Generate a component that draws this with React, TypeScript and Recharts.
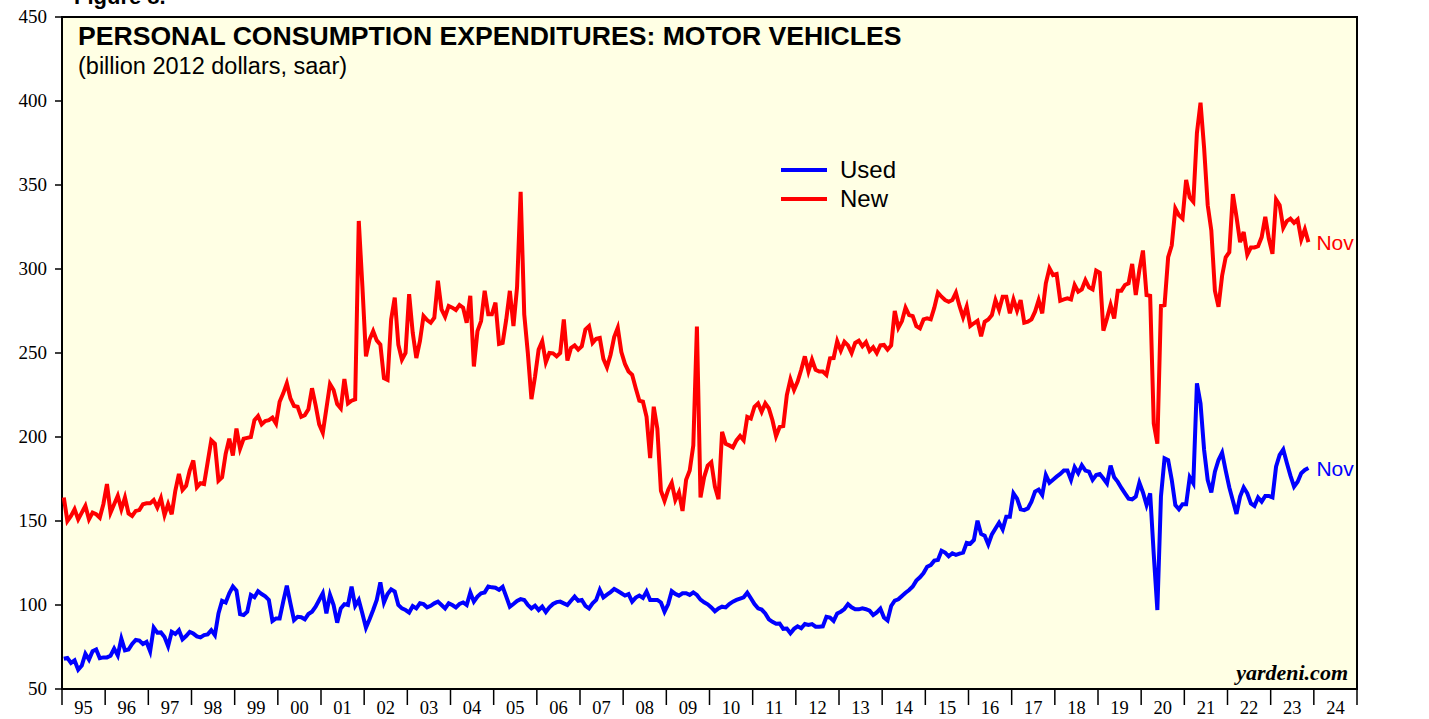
import { LineChart, Line, XAxis, YAxis, CartesianGrid, ReferenceArea, Legend } from "recharts";

// year labels along the bottom (1995 .. 2024)
const yearLabels = [
  "95", "96", "97", "98", "99", "00", "01", "02", "03", "04",
  "05", "06", "07", "08", "09", "10", "11", "12", "13", "14",
  "15", "16", "17", "18", "19", "20", "21", "22", "23", "24",
];

const yTicks = [50, 100, 150, 200, 250, 300, 350, 400, 450];

const lastMonthLabel = "Nov";

// used motor vehicles, monthly from Jan 1995 to Nov 2023 (billion 2012 $, saar)
const usedVehicles = [
  68, 68.5, 65.5, 67, 61.5, 64, 71, 67.5, 72.5, 73.5, 68.3, 68.8, // 95
  68.8, 69.8, 74, 70, 80, 73, 73.5, 76.8, 79.2, 78.8, 76.8, 78, // 96
  72.5, 86.5, 83.5, 83.7, 81, 75.5, 84, 82.7, 85, 79.6, 81.5, 84, // 97
  83, 81.3, 80.7, 82.1, 82.5, 85, 82, 95, 102.5, 101.5, 107, 111, // 98
  108.5, 94.6, 94, 96, 106, 104.6, 108.2, 106.5, 105.2, 103, 90.5, 92, // 99
  92, 102, 111.5, 101, 91, 93, 92.7, 91.5, 94.6, 96, 99, 103, // 00
  107, 95, 106, 100, 89.5, 98, 100.5, 100, 111, 99.5, 103, 95, // 01
  86.5, 91.5, 97, 103, 113.5, 101.5, 106.5, 109.3, 108, 100, 98, 97, // 02
  95.5, 99.4, 98, 101, 100.5, 98.6, 99.5, 101, 102, 100, 98, 101, // 03
  100, 98.6, 100.6, 101.5, 100, 107.5, 102, 105, 107, 107.5, 111, 110.5, // 04
  110.3, 109, 110.8, 105, 99, 100.6, 102.4, 103.5, 103, 100, 98, 99.6, // 05
  97, 99, 95.8, 98.6, 100.6, 101.7, 102, 101, 100, 102.5, 105, 102.5, // 06
  103, 99.5, 98, 101, 103, 109, 104.5, 106.2, 107.7, 109.5, 108.3, 107, // 07
  105.6, 106.5, 102, 104.4, 105.6, 104.2, 108, 103, 103, 103, 101.5, 96, // 08
  100.4, 108.2, 106.6, 105.6, 107, 107, 106, 107.5, 106, 103.2, 101.6, 100.4, // 09
  98.6, 96.3, 98, 99, 98.6, 100.6, 102, 103, 103.8, 104.6, 107.3, 104, // 10
  100.5, 98, 97.3, 95, 91.5, 90, 88.8, 89, 85.8, 86, 83.2, 85.8, // 11
  87.3, 86.2, 88.7, 88.1, 88.6, 87.1, 87.1, 87.3, 93, 92.5, 90.5, 95, // 12
  96, 97.6, 100.5, 98.6, 97.4, 97.4, 98, 97.5, 96.6, 94, 95.6, 97.8, // 13
  92.6, 90.8, 99.4, 102.6, 103.4, 105.4, 107.3, 108.9, 111, 114.5, 116.5, 119, // 14
  122.8, 123.8, 126.4, 126.8, 132.3, 131.2, 129, 130.8, 129.8, 130.6, 131.2, 137, // 15
  136.5, 138.7, 150.2, 142.3, 141.2, 136, 142, 145.5, 149, 145, 152.6, 152.6, // 16
  166.5, 163.3, 157, 156.5, 157.5, 161.5, 167.5, 168.7, 165.5, 177.4, 172.8, 174.6, // 17
  176.4, 178, 180, 180, 174.4, 182, 178.5, 183.2, 180, 179.4, 174.5, 177.4, // 18
  178, 175.3, 172.4, 183, 176, 173.3, 169.7, 166.5, 163.3, 162.9, 164.5, 172.8, // 19
  167, 159.5, 166.5, 130, 97, 164.5, 187.3, 186.3, 174.5, 159.5, 157, 160, // 20
  160, 176, 172.4, 232, 220, 192.3, 174.4, 167, 179.4, 186.3, 190.7, 180, // 21
  170, 162, 154.2, 164.5, 170, 166.5, 160.5, 159, 164, 161.5, 164.9, 164.9, // 22
  164, 182.3, 189.3, 192.5, 184.5, 177, 170.4, 173.4, 178.4, 180.4, 181.5, // 23
];

// new motor vehicles, same months
const newVehicles = [
  164, 150, 153, 157, 151, 155, 159, 151, 155, 154, 152, 160, // 95
  172, 155, 160, 165, 157, 164, 154.5, 153, 156, 156.5, 160, 160.5, // 96
  160.5, 162.5, 158, 163.5, 153.5, 160, 154, 168, 178, 168.5, 171, 180, // 97
  186, 170, 172.5, 172, 185, 198, 196, 174, 176, 190, 199, 189, // 98
  205, 193, 199, 199.5, 200, 210, 212.5, 207.5, 209.5, 210, 211.5, 208, // 99
  221, 226, 232, 223, 218.5, 218, 212, 213, 216.5, 229, 219, 207.5, // 00
  202.5, 217, 231.5, 228, 219.6, 217, 234.5, 220, 221.6, 222.4, 328.6, 290, // 01
  248, 258, 263, 257.5, 255, 235, 234, 270, 283, 255, 246, 250, // 02
  285, 262, 247, 257, 272, 269.6, 268, 271, 293, 276, 271.6, 278, // 03
  277, 275.6, 278.6, 277, 268, 284, 242, 263, 269, 287, 273, 273, // 04
  280, 255.4, 256, 270, 287, 266, 289, 346, 273, 250, 222.5, 236, // 05
  252, 257, 244.5, 250, 249.8, 248, 250, 270, 245.5, 253, 254.5, 252, // 06
  254, 264, 266, 256, 258.5, 259, 246.5, 241.5, 249, 259.5, 265, 250.5, // 07
  243.5, 239, 237, 229, 221.6, 221, 212, 187.5, 218, 205, 168, 162, // 08
  168.5, 172.8, 162.5, 167, 156, 174.5, 180, 195, 265.7, 164, 176, 183, // 09
  185, 170.5, 163, 203, 196, 195, 193.8, 198, 200.6, 198, 212, 211, // 10
  218, 220, 215, 220, 217, 210, 200.5, 206, 206.5, 225, 234.3, 228, // 11
  233, 240, 248, 239, 246, 240, 239, 239, 237, 246.8, 247, 257, // 12
  251.4, 256.7, 254.5, 250, 256, 257.3, 254, 256.5, 251.2, 253.4, 250, 254.5, // 13
  254.8, 252, 254.5, 275, 265, 269, 277, 272.6, 272, 266, 264.7, 270, // 14
  270.6, 270, 277, 285.9, 283.5, 281.5, 280.5, 281.5, 285.9, 278, 271.2, 277.6, // 15
  266.1, 267.7, 269.2, 260, 268.6, 270, 272.6, 281.5, 275.6, 283.5, 283.5, 273.6, // 16
  281.9, 275.2, 281.5, 268, 268.6, 270, 274.6, 281.5, 273.6, 291.5, 300.4, 296.4, // 17
  297, 281.1, 281.9, 282.5, 281.9, 290.5, 286.5, 287.9, 293.4, 289.1, 287.9, 299, // 18
  297.8, 263.3, 270.6, 278.6, 270.6, 287.1, 287.1, 290.5, 291.5, 303, 284.5, 299.4, // 19
  311, 284.5, 284, 208, 196, 278, 278.5, 307, 314, 336, 332, 330, // 20
  353, 342.6, 340, 381, 399, 372, 338, 323, 287, 277.5, 296, 307, // 21
  310, 344.6, 331, 316, 322, 308.5, 312.8, 312.8, 313.6, 319, 331, 318, // 22
  309, 341.4, 338, 324.5, 328.5, 330, 327.5, 329.5, 317.6, 323.6, 316, // 23
];

const data = usedVehicles.map((used, i) => ({
  month: i + 0.5,
  used,
  newCars: newVehicles[i],
}));

// year boundaries get a tick mark, year middles get the label
const xTicks: number[] = [];
for (let y = 0; y <= yearLabels.length; y++) {
  xTicks.push(y * 12);
  if (y < yearLabels.length) xTicks.push(y * 12 + 6);
}

const serif = "'Liberation Serif', 'Times New Roman', serif";
const sans = "'Liberation Sans', Arial, sans-serif";
const lastIndex = data.length - 1;

const YearTick = (props: any) => {
  const { x, y, payload } = props;
  if (payload.value % 12 === 0) {
    return <line x1={x} x2={x} y1={y} y2={y + 16} stroke="#000" strokeWidth={1.5} />;
  }
  return (
    <text x={x} y={y + 25} textAnchor="middle" fontFamily={serif} fontSize={18.5} fill="#000">
      {yearLabels[Math.floor(payload.value / 12)]}
    </text>
  );
};

const LeftTick = (props: any) => {
  const { x, y, payload } = props;
  return (
    <g>
      <line x1={x - 7} x2={x} y1={y} y2={y} stroke="#000" strokeWidth={1.5} />
      <text x={x - 15} y={y + 6} textAnchor="end" fontFamily={serif} fontSize={19} fill="#000">
        {payload.value}
      </text>
    </g>
  );
};

const RightTick = (props: any) => {
  const { x, y, payload } = props;
  return (
    <g>
      <line x1={x} x2={x + 7} y1={y} y2={y} stroke="#000" strokeWidth={1.5} />
      <text x={x + 22} y={y + 6} textAnchor="start" fontFamily={serif} fontSize={19} fill="#000">
        {payload.value}
      </text>
    </g>
  );
};

const endLabel = (color: string) => (p: any) =>
  p.index === lastIndex ? (
    <text x={p.x + 8} y={p.y + 8} fontFamily={sans} fontSize={21} fill={color}>
      {lastMonthLabel}
    </text>
  ) : null;

const legendItems = [
  { name: "Used", color: "#0000FF" },
  { name: "New", color: "#FF0000" },
];

const renderLegend = () => (
  <svg width={200} height={60}>
    {legendItems.map((item, i) => (
      <g key={item.name}>
        <line x1={0} x2={46} y1={14 + i * 29} y2={14 + i * 29} stroke={item.color} strokeWidth={4} />
        <text x={59} y={22 + i * 29} fontFamily={sans} fontSize={24} fill="#000">
          {item.name}
        </text>
      </g>
    ))}
  </svg>
);

export default function App() {
  return (
    <div style={{ position: "absolute", left: 0, top: 0, width: 1429, height: 719, background: "#fff" }}>
      <LineChart width={1429} height={719} data={data} margin={{ top: 17, right: 0, bottom: 0, left: 0 }}>
        <CartesianGrid yAxisId="left" horizontal={false} vertical={false} fill="#FFFFE4" />
        <XAxis
          dataKey="month"
          type="number"
          domain={[0, 360]}
          ticks={xTicks}
          interval={0}
          height={30}
          tickSize={0}
          tickMargin={0}
          tickLine={false}
          axisLine={false}
          tick={<YearTick />}
        />
        <YAxis
          yAxisId="left"
          orientation="left"
          domain={[50, 450]}
          ticks={yTicks}
          interval={0}
          width={62}
          tickSize={0}
          tickMargin={0}
          tickLine={false}
          axisLine={false}
          tick={<LeftTick />}
        />
        <YAxis
          yAxisId="right"
          orientation="right"
          domain={[50, 450]}
          ticks={yTicks}
          interval={0}
          width={72}
          tickSize={0}
          tickMargin={0}
          tickLine={false}
          axisLine={false}
          tick={<RightTick />}
        />
        <ReferenceArea
          yAxisId="left"
          x1={0}
          x2={360}
          y1={50}
          y2={450}
          fill="none"
          stroke="#000"
          strokeWidth={2}
          ifOverflow="visible"
        />
        <Legend
          verticalAlign="middle"
          align="center"
          layout="horizontal"
          content={renderLegend}
          wrapperStyle={{ left: 781, top: 156, width: 200, height: 60 }}
        />
        <Line
          yAxisId="left"
          type="linear"
          dataKey="newCars"
          name="New"
          stroke="#FF0000"
          strokeWidth={4}
          dot={false}
          isAnimationActive={false}
          label={endLabel("#FF0000")}
        />
        <Line
          yAxisId="left"
          type="linear"
          dataKey="used"
          name="Used"
          stroke="#0000FF"
          strokeWidth={4}
          dot={false}
          isAnimationActive={false}
          label={endLabel("#0000FF")}
        />
      </LineChart>
      <svg
        width={1429}
        height={719}
        style={{ position: "absolute", left: 0, top: 0, pointerEvents: "none" }}
      >
        <text x={74} y={4} fontFamily={sans} fontWeight="bold" fontSize={22} fill="#000">
          Figure 8.
        </text>
        <text x={78} y={45} fontFamily={sans} fontWeight="bold" fontSize={26.6} fill="#000">
          PERSONAL CONSUMPTION EXPENDITURES: MOTOR VEHICLES
        </text>
        <text x={78} y={74} fontFamily={sans} fontSize={23.5} fill="#000">
          (billion 2012 dollars, saar)
        </text>
        <text
          x={1348}
          y={680}
          textAnchor="end"
          fontFamily={serif}
          fontWeight="bold"
          fontStyle="italic"
          fontSize={22}
          fill="#000"
        >
          yardeni.com
        </text>
      </svg>
    </div>
  );
}
